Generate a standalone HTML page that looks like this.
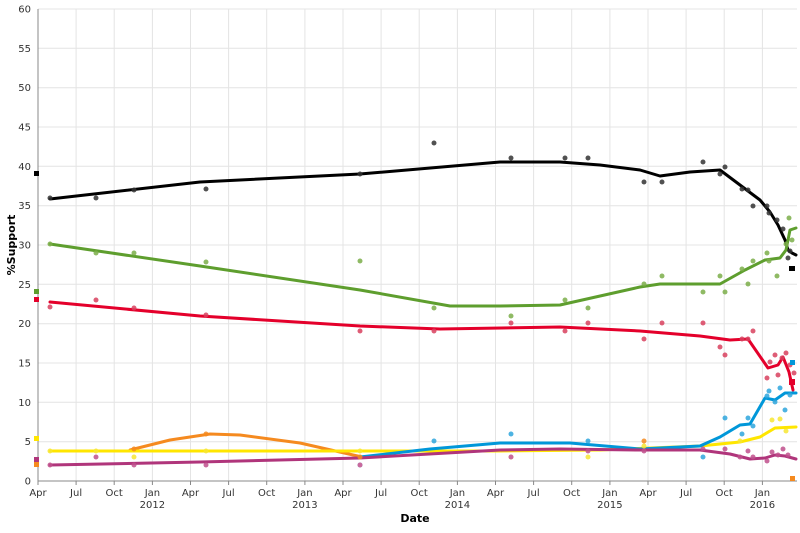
<!DOCTYPE html><html><head><style>body{margin:0;background:#fff}svg{font-family:"DejaVu Sans","Liberation Sans",sans-serif}</style></head><body>
<svg width="800" height="528" xmlns="http://www.w3.org/2000/svg">
<g stroke="#e4e4e4" stroke-width="1">
<line x1="38" x2="797" y1="441.7" y2="441.7"/><line x1="38" x2="797" y1="402.3" y2="402.3"/><line x1="38" x2="797" y1="363" y2="363"/><line x1="38" x2="797" y1="323.7" y2="323.7"/><line x1="38" x2="797" y1="284.3" y2="284.3"/><line x1="38" x2="797" y1="245" y2="245"/><line x1="38" x2="797" y1="205.7" y2="205.7"/><line x1="38" x2="797" y1="166.3" y2="166.3"/><line x1="38" x2="797" y1="127" y2="127"/><line x1="38" x2="797" y1="87.7" y2="87.7"/><line x1="38" x2="797" y1="48.3" y2="48.3"/><line x1="38" x2="797" y1="9" y2="9"/>
<line y1="9" y2="481" x1="76.1" x2="76.1"/><line y1="9" y2="481" x1="114.2" x2="114.2"/><line y1="9" y2="481" x1="152.4" x2="152.4"/><line y1="9" y2="481" x1="190.5" x2="190.5"/><line y1="9" y2="481" x1="228.6" x2="228.6"/><line y1="9" y2="481" x1="266.7" x2="266.7"/><line y1="9" y2="481" x1="304.9" x2="304.9"/><line y1="9" y2="481" x1="343" x2="343"/><line y1="9" y2="481" x1="381.1" x2="381.1"/><line y1="9" y2="481" x1="419.2" x2="419.2"/><line y1="9" y2="481" x1="457.4" x2="457.4"/><line y1="9" y2="481" x1="495.5" x2="495.5"/><line y1="9" y2="481" x1="533.6" x2="533.6"/><line y1="9" y2="481" x1="571.7" x2="571.7"/><line y1="9" y2="481" x1="609.9" x2="609.9"/><line y1="9" y2="481" x1="648" x2="648"/><line y1="9" y2="481" x1="686.1" x2="686.1"/><line y1="9" y2="481" x1="724.2" x2="724.2"/><line y1="9" y2="481" x1="762.4" x2="762.4"/>
</g>
<g stroke="#888"><line x1="38" y1="9" x2="38" y2="481"/><line x1="38" y1="481" x2="797" y2="481"/>
<line y1="481" y2="485" x1="38" x2="38"/><line y1="481" y2="485" x1="76.1" x2="76.1"/><line y1="481" y2="485" x1="114.2" x2="114.2"/><line y1="481" y2="485" x1="152.4" x2="152.4"/><line y1="481" y2="485" x1="190.5" x2="190.5"/><line y1="481" y2="485" x1="228.6" x2="228.6"/><line y1="481" y2="485" x1="266.7" x2="266.7"/><line y1="481" y2="485" x1="304.9" x2="304.9"/><line y1="481" y2="485" x1="343" x2="343"/><line y1="481" y2="485" x1="381.1" x2="381.1"/><line y1="481" y2="485" x1="419.2" x2="419.2"/><line y1="481" y2="485" x1="457.4" x2="457.4"/><line y1="481" y2="485" x1="495.5" x2="495.5"/><line y1="481" y2="485" x1="533.6" x2="533.6"/><line y1="481" y2="485" x1="571.7" x2="571.7"/><line y1="481" y2="485" x1="609.9" x2="609.9"/><line y1="481" y2="485" x1="648" x2="648"/><line y1="481" y2="485" x1="686.1" x2="686.1"/><line y1="481" y2="485" x1="724.2" x2="724.2"/><line y1="481" y2="485" x1="762.4" x2="762.4"/></g>
<g font-size="10" fill="#333" text-anchor="end">
<text x="31" y="484.5">0</text><text x="31" y="445.2">5</text><text x="31" y="405.8">10</text><text x="31" y="366.5">15</text><text x="31" y="327.2">20</text><text x="31" y="287.8">25</text><text x="31" y="248.5">30</text><text x="31" y="209.2">35</text><text x="31" y="169.8">40</text><text x="31" y="130.5">45</text><text x="31" y="91.2">50</text><text x="31" y="51.8">55</text><text x="31" y="12.5">60</text>
</g>
<g font-size="10" fill="#333" text-anchor="middle">
<text x="38" y="496">Apr</text><text x="76.1" y="496">Jul</text><text x="114.2" y="496">Oct</text><text x="152.4" y="496">Jan</text><text x="190.5" y="496">Apr</text><text x="228.6" y="496">Jul</text><text x="266.7" y="496">Oct</text><text x="304.9" y="496">Jan</text><text x="343" y="496">Apr</text><text x="381.1" y="496">Jul</text><text x="419.2" y="496">Oct</text><text x="457.4" y="496">Jan</text><text x="495.5" y="496">Apr</text><text x="533.6" y="496">Jul</text><text x="571.7" y="496">Oct</text><text x="609.9" y="496">Jan</text><text x="648" y="496">Apr</text><text x="686.1" y="496">Jul</text><text x="724.2" y="496">Oct</text><text x="762.4" y="496">Jan</text>
<text x="152.4" y="508">2012</text><text x="304.9" y="508">2013</text><text x="457.4" y="508">2014</text><text x="609.9" y="508">2015</text><text x="762.4" y="508">2016</text>
</g>
<text x="15" y="245" font-size="11" font-weight="bold" transform="rotate(-90 15 245)" text-anchor="middle">%Support</text>
<text x="415" y="522" font-size="11" font-weight="bold" text-anchor="middle">Date</text>
<g fill="none" stroke-width="3" stroke-linejoin="round" stroke-linecap="round">
<polyline stroke="#000" points="50,199 200,182 360,174 500,162 560,162 600,165 640,170 660,176 690,172 720,170 740,185 760,200 770,212 778,225 785,240 788,250 792,253 796,255"/>
<polyline stroke="#5e9e2e" points="50,244 200,266 360,290 450,306 500,306 560,305 640,287 660,284 720,284 745,270 765,260 780,258 786,250 790,230 796,228"/>
<polyline stroke="#e4002b" points="50,302 200,316 360,326 440,329 560,327 640,331 700,336 730,340 748,339 768,368 778,365 783,357 789,372 793,390"/>
<polyline stroke="#f58a1f" points="130,450 170,440 210,434 240,435 300,443 362,457"/>
<polyline stroke="#ffe600" points="50,451 360,451 500,451 600,450 700,446 740,442 760,437 775,428 796,427"/>
<polyline stroke="#0097d9" points="360,457 430,449 500,443 570,443 640,449 700,446 720,437 740,425 750,424 765,398 775,400 785,393 796,393"/>
<polyline stroke="#b0357b" points="50,465 200,462 360,458 500,450 560,449 640,450 700,450 730,454 750,459 765,458 775,455 785,456 796,459"/>
</g>
<g opacity="0.85">
<g fill="#333"><circle cx="50" cy="198" r="2.5"/><circle cx="96" cy="198" r="2.5"/><circle cx="134" cy="190" r="2.5"/><circle cx="206" cy="189" r="2.5"/><circle cx="360" cy="174" r="2.5"/><circle cx="434" cy="143" r="2.5"/><circle cx="511" cy="158" r="2.5"/><circle cx="565" cy="158" r="2.5"/><circle cx="588" cy="158" r="2.5"/><circle cx="644" cy="182" r="2.5"/><circle cx="662" cy="182" r="2.5"/><circle cx="703" cy="162" r="2.5"/><circle cx="720" cy="174" r="2.5"/><circle cx="725" cy="167" r="2.5"/><circle cx="742" cy="189" r="2.5"/><circle cx="748" cy="190" r="2.5"/><circle cx="753" cy="206" r="2.5"/><circle cx="767" cy="206" r="2.5"/><circle cx="769" cy="213" r="2.5"/><circle cx="777" cy="220" r="2.5"/><circle cx="783" cy="229" r="2.5"/><circle cx="788" cy="258" r="2.5"/><circle cx="790" cy="251" r="2.5"/></g>
<g fill="#7cae4a"><circle cx="50" cy="244" r="2.5"/><circle cx="96" cy="253" r="2.5"/><circle cx="134" cy="253" r="2.5"/><circle cx="206" cy="262" r="2.5"/><circle cx="360" cy="261" r="2.5"/><circle cx="434" cy="308" r="2.5"/><circle cx="511" cy="316" r="2.5"/><circle cx="565" cy="300" r="2.5"/><circle cx="588" cy="308" r="2.5"/><circle cx="644" cy="284" r="2.5"/><circle cx="662" cy="276" r="2.5"/><circle cx="703" cy="292" r="2.5"/><circle cx="720" cy="276" r="2.5"/><circle cx="725" cy="292" r="2.5"/><circle cx="742" cy="269" r="2.5"/><circle cx="748" cy="284" r="2.5"/><circle cx="753" cy="261" r="2.5"/><circle cx="767" cy="253" r="2.5"/><circle cx="769" cy="261" r="2.5"/><circle cx="777" cy="276" r="2.5"/><circle cx="786" cy="244" r="2.5"/><circle cx="789" cy="218" r="2.5"/><circle cx="792" cy="240" r="2.5"/></g>
<g fill="#d9415f"><circle cx="50" cy="307" r="2.5"/><circle cx="96" cy="300" r="2.5"/><circle cx="134" cy="308" r="2.5"/><circle cx="206" cy="315" r="2.5"/><circle cx="360" cy="331" r="2.5"/><circle cx="434" cy="331" r="2.5"/><circle cx="511" cy="323" r="2.5"/><circle cx="565" cy="331" r="2.5"/><circle cx="588" cy="323" r="2.5"/><circle cx="644" cy="339" r="2.5"/><circle cx="662" cy="323" r="2.5"/><circle cx="703" cy="323" r="2.5"/><circle cx="720" cy="347" r="2.5"/><circle cx="725" cy="355" r="2.5"/><circle cx="742" cy="339" r="2.5"/><circle cx="748" cy="339" r="2.5"/><circle cx="753" cy="331" r="2.5"/><circle cx="767" cy="378" r="2.5"/><circle cx="770" cy="362" r="2.5"/><circle cx="775" cy="355" r="2.5"/><circle cx="778" cy="375" r="2.5"/><circle cx="782" cy="358" r="2.5"/><circle cx="786" cy="353" r="2.5"/><circle cx="790" cy="365" r="2.5"/><circle cx="794" cy="373" r="2.5"/></g>
<g fill="#f7e733"><circle cx="50" cy="451" r="2.5"/><circle cx="96" cy="451" r="2.5"/><circle cx="134" cy="457" r="2.5"/><circle cx="206" cy="451" r="2.5"/><circle cx="360" cy="451" r="2.5"/><circle cx="511" cy="457" r="2.5"/><circle cx="588" cy="457" r="2.5"/><circle cx="644" cy="446" r="2.5"/><circle cx="740" cy="441" r="2.5"/><circle cx="772" cy="420" r="2.5"/><circle cx="780" cy="419" r="2.5"/><circle cx="786" cy="431" r="2.5"/></g>
<g fill="#2fa6dd"><circle cx="360" cy="465" r="2.5"/><circle cx="434" cy="441" r="2.5"/><circle cx="511" cy="434" r="2.5"/><circle cx="588" cy="441" r="2.5"/><circle cx="703" cy="457" r="2.5"/><circle cx="725" cy="418" r="2.5"/><circle cx="742" cy="434" r="2.5"/><circle cx="748" cy="418" r="2.5"/><circle cx="753" cy="426" r="2.5"/><circle cx="767" cy="396" r="2.5"/><circle cx="769" cy="391" r="2.5"/><circle cx="775" cy="402" r="2.5"/><circle cx="780" cy="388" r="2.5"/><circle cx="785" cy="410" r="2.5"/><circle cx="790" cy="395" r="2.5"/></g>
<g fill="#c0508c"><circle cx="50" cy="465" r="2.5"/><circle cx="96" cy="457" r="2.5"/><circle cx="134" cy="465" r="2.5"/><circle cx="206" cy="465" r="2.5"/><circle cx="360" cy="465" r="2.5"/><circle cx="511" cy="457" r="2.5"/><circle cx="588" cy="451" r="2.5"/><circle cx="644" cy="451" r="2.5"/><circle cx="703" cy="449" r="2.5"/><circle cx="725" cy="449" r="2.5"/><circle cx="740" cy="457" r="2.5"/><circle cx="748" cy="451" r="2.5"/><circle cx="753" cy="457" r="2.5"/><circle cx="767" cy="461" r="2.5"/><circle cx="772" cy="452" r="2.5"/><circle cx="778" cy="455" r="2.5"/><circle cx="783" cy="449" r="2.5"/><circle cx="788" cy="455" r="2.5"/></g>
<g fill="#f58a1f"><circle cx="134" cy="449" r="2.5"/><circle cx="206" cy="434" r="2.5"/><circle cx="360" cy="457" r="2.5"/><circle cx="644" cy="441" r="2.5"/></g>
</g>
<rect x="34" y="171" width="5" height="5" fill="#000"/><rect x="34" y="289" width="5" height="5" fill="#5e9e2e"/><rect x="34" y="297" width="5" height="5" fill="#e4002b"/><rect x="34" y="436" width="5" height="5" fill="#ffe600"/><rect x="34" y="457" width="5" height="5" fill="#b0357b"/><rect x="34" y="462" width="5" height="5" fill="#f58a1f"/>
<rect x="789" y="266" width="6" height="5" fill="#000"/><rect x="789" y="379" width="6" height="6" fill="#e4002b"/><rect x="790" y="360" width="5" height="5" fill="#0097d9"/><rect x="790" y="476" width="5" height="5" fill="#f58a1f"/>
</svg></body></html>
